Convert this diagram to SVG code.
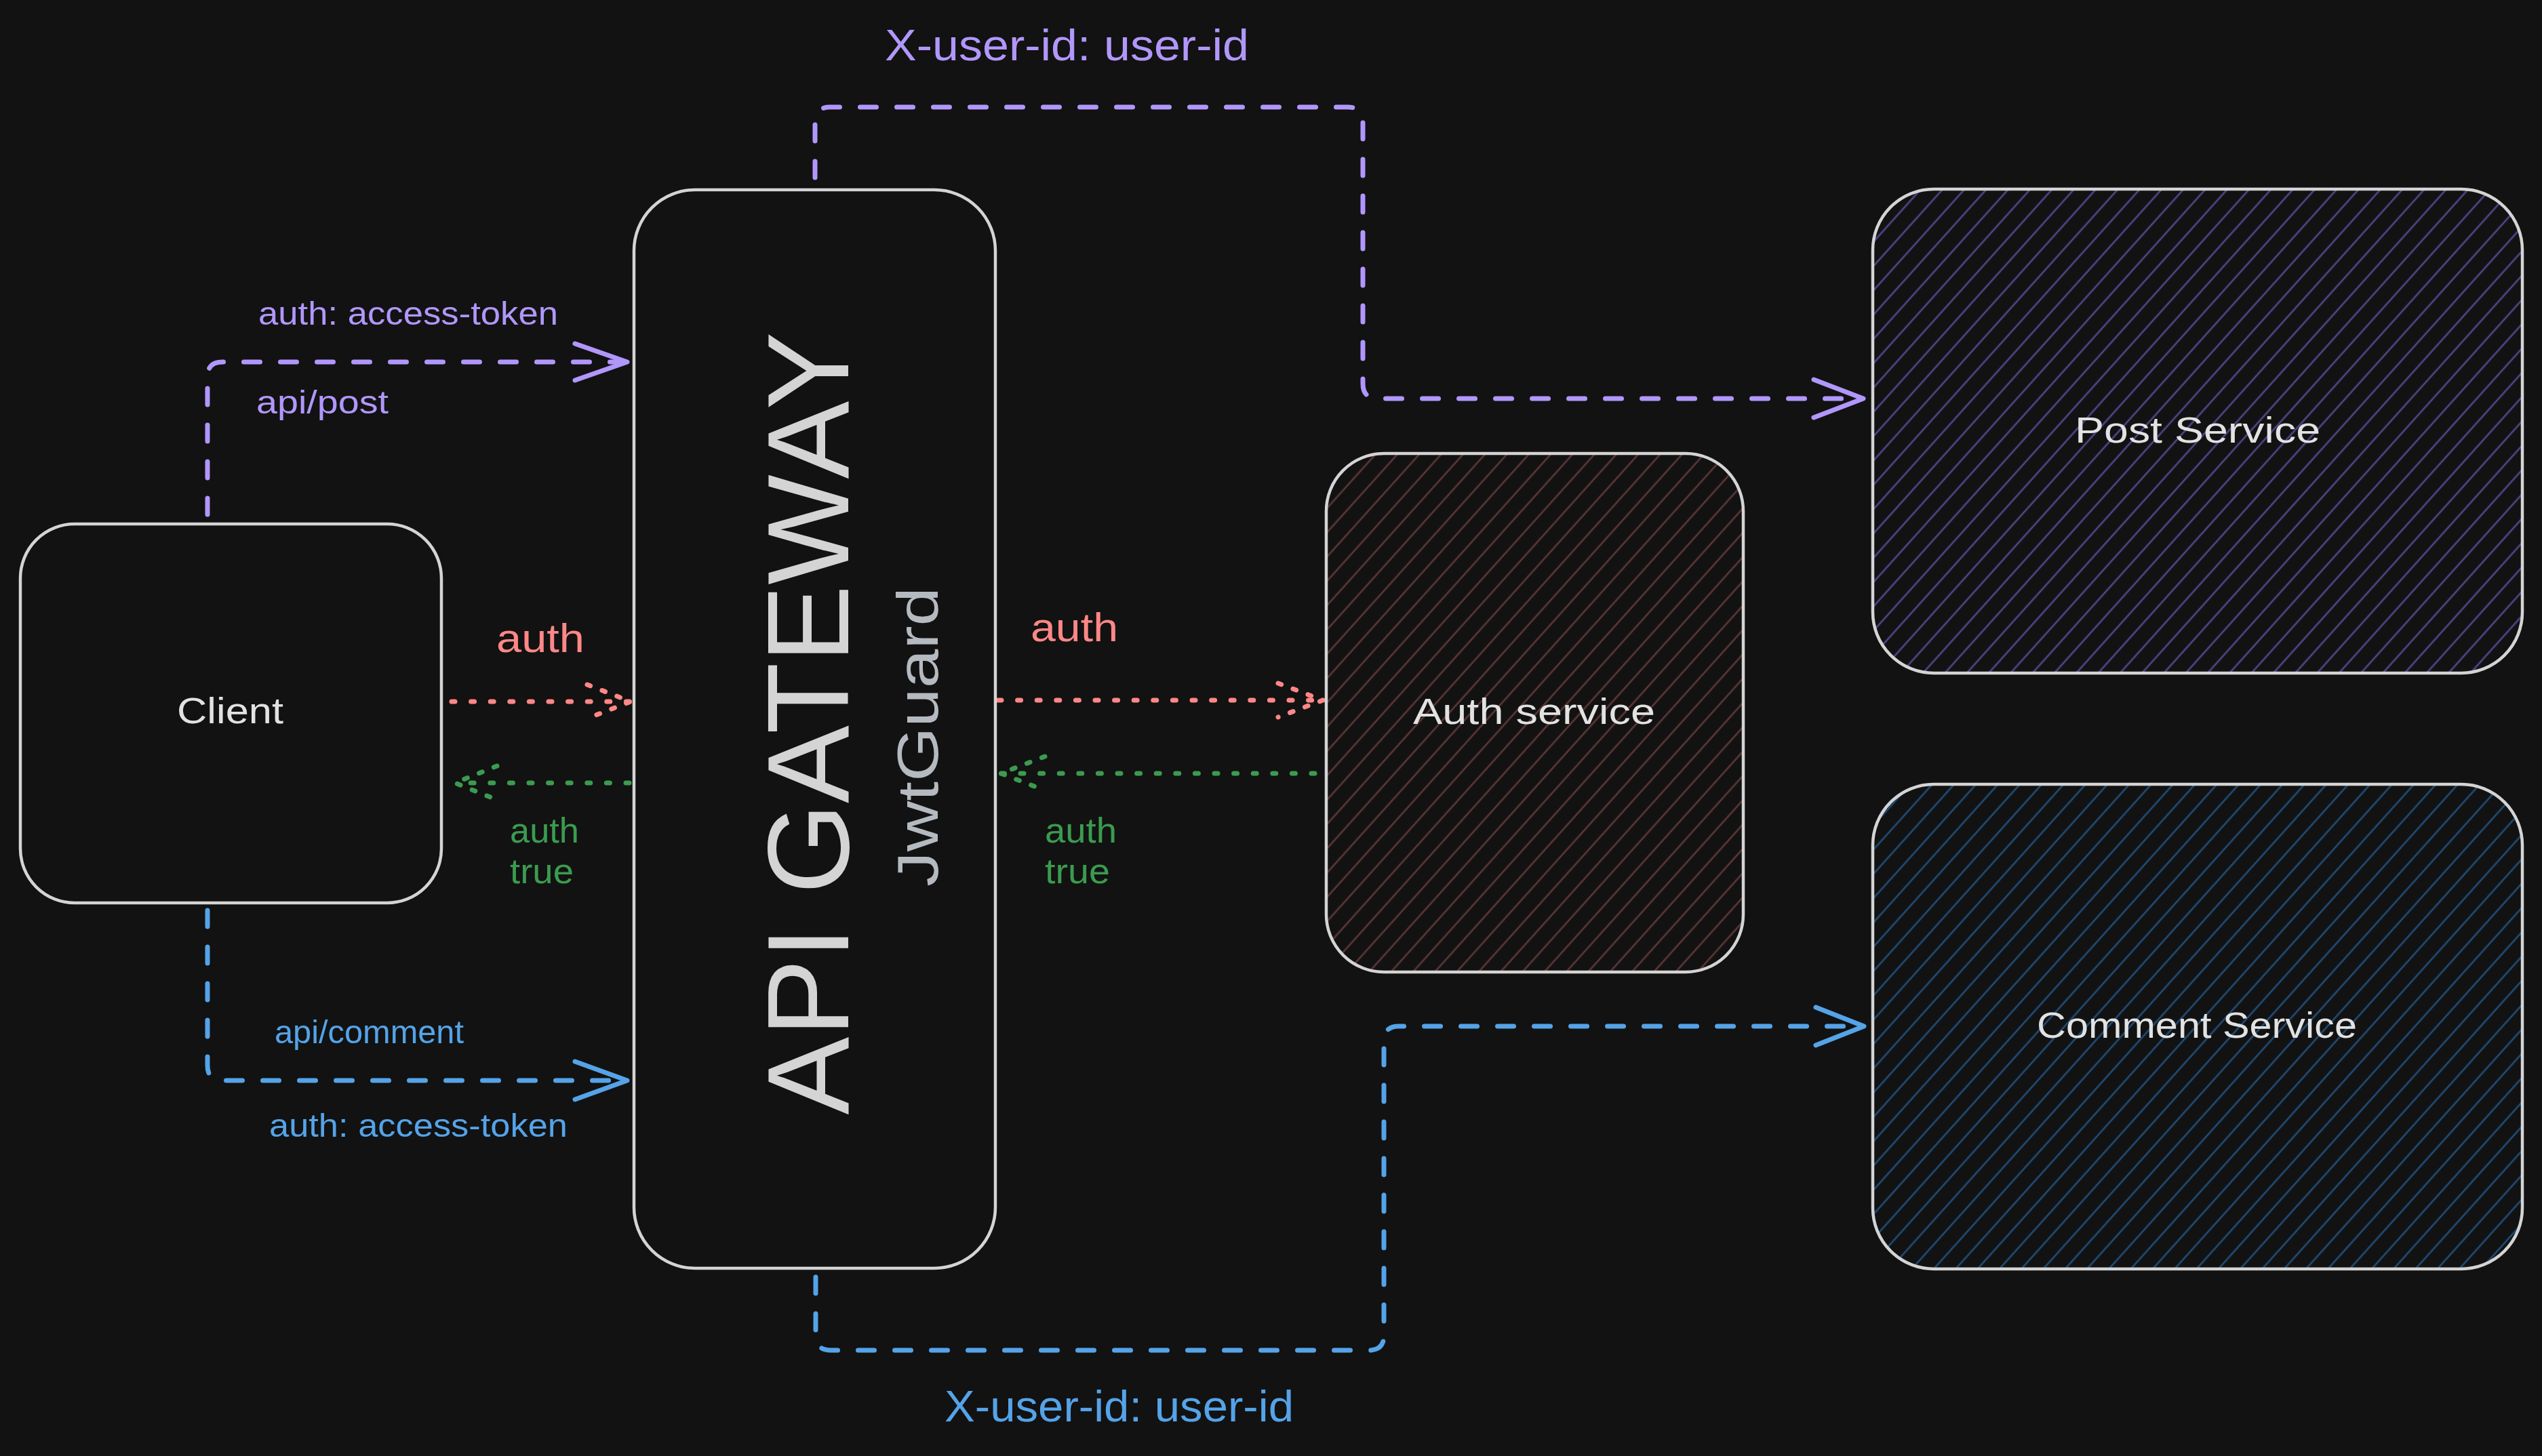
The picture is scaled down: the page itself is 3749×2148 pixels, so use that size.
<svg xmlns="http://www.w3.org/2000/svg" width="3749" height="2148" viewBox="0 0 3749 2148">
  <style>
    .node { fill: #121212; stroke: #d4d4d4; stroke-width: 4.5; }
    .hatch-edge { fill: none; stroke: #d4d4d4; stroke-width: 4.5; }
    .t { font-family: "Liberation Sans", Arial, sans-serif; }
    .ntext { fill: #e2e2e2; font-size: 54px; }
    .dash { fill: none; stroke-width: 7; stroke-dasharray: 24 30; stroke-linecap: round; stroke-linejoin: round; }
    .head { fill: none; stroke-width: 7; stroke-linecap: round; stroke-linejoin: round; }
    .dot { fill: none; stroke-width: 7; stroke-dasharray: 5 23.6; stroke-linecap: round; }
    .dothead { fill: none; stroke-width: 7; stroke-dasharray: 5 18.5; stroke-linecap: round; }
    .purple { stroke: #b197fc; }
    .blue { stroke: #55a3e8; }
    .red { stroke: #ff8787; }
    .green { stroke: #3b9b4f; }
    .ftp { fill: #b197fc; }
    .ftb { fill: #55a3e8; }
    .ftr { fill: #ff8787; }
    .ftg { fill: #3b9b4f; }
  </style>
  <defs>
    <pattern id="hatchPurple" patternUnits="userSpaceOnUse" width="24" height="24" patternTransform="rotate(-48)">
      <line x1="-2" y1="12" x2="26" y2="12" stroke="#4f468c" stroke-width="2.6"/>
    </pattern>
    <pattern id="hatchRed" patternUnits="userSpaceOnUse" width="24" height="24" patternTransform="rotate(-48)">
      <line x1="-2" y1="12" x2="26" y2="12" stroke="#5e3636" stroke-width="2.6"/>
    </pattern>
    <pattern id="hatchBlue" patternUnits="userSpaceOnUse" width="24" height="24" patternTransform="rotate(-48)">
      <line x1="-2" y1="12" x2="26" y2="12" stroke="#1f4d78" stroke-width="2.6"/>
    </pattern>
  </defs>

  <rect x="0" y="0" width="3749" height="2148" fill="#121212"/>

  <g id="connectors">
    <!-- Client -> Gateway (api/post) -->
    <path class="dash purple" d="M306,759 L306,556 Q306,534 328,534 L922,534"/>
    <path class="head purple" d="M848,507 L925,534 L848,561"/>
    <!-- Gateway -> Post Service -->
    <path class="dash purple" d="M1202,262 L1202,180 Q1202,158 1224,158 L1988,158 Q2010,158 2010,180 L2010,566 Q2010,588 2032,588 L2745,588"/>
    <path class="head purple" d="M2675,560 L2748,588 L2675,616"/>
    <!-- Client -> Gateway (api/comment) -->
    <path class="dash blue" d="M306,1343 L306,1572 Q306,1594 328,1594 L922,1594"/>
    <path class="head blue" d="M848,1566 L925,1594 L848,1622"/>
    <!-- Gateway -> Comment Service -->
    <path class="dash blue" d="M1203,1884 L1203,1970 Q1203,1992 1225,1992 L2019,1992 Q2041,1992 2041,1970 L2041,1536 Q2041,1514 2063,1514 L2746,1514"/>
    <path class="head blue" d="M2678,1486 L2749,1514 L2678,1542"/>
    <!-- Client -> Gateway auth (red dotted) -->
    <path class="dot red" d="M666,1035 L930,1035"/>
    <path class="dothead red" d="M866,1010 L930,1035 L866,1060"/>
    <!-- Gateway -> Client auth true (green dotted) -->
    <path class="dot green" d="M928,1155 L671,1155"/>
    <path class="dothead green" d="M733,1130 L671,1155 L733,1180"/>
    <!-- Gateway -> Auth service (red dotted) -->
    <path class="dot red" d="M1472,1033 L1951,1033"/>
    <path class="dothead red" d="M1885,1008 L1951,1033 L1885,1058"/>
    <!-- Auth service -> Gateway (green dotted) -->
    <path class="dot green" d="M1939,1141 L1476,1141"/>
    <path class="dothead green" d="M1541,1116 L1476,1141 L1541,1166"/>

    <!-- connector labels -->
    <text class="t ftp" x="381" y="479" font-size="48" textLength="442" lengthAdjust="spacingAndGlyphs">auth: access-token</text>
    <text class="t ftp" x="378" y="610" font-size="48" textLength="195" lengthAdjust="spacingAndGlyphs">api/post</text>
    <text class="t ftp" x="1305" y="89" font-size="64" textLength="537" lengthAdjust="spacingAndGlyphs">X-user-id: user-id</text>
    <text class="t ftb" x="405" y="1539" font-size="48" textLength="279" lengthAdjust="spacingAndGlyphs">api/comment</text>
    <text class="t ftb" x="397" y="1677" font-size="48" textLength="440" lengthAdjust="spacingAndGlyphs">auth: access-token</text>
    <text class="t ftb" x="1393" y="2097" font-size="64" textLength="515" lengthAdjust="spacingAndGlyphs">X-user-id: user-id</text>
    <text class="t ftr" x="732" y="962" font-size="60" textLength="130" lengthAdjust="spacingAndGlyphs">auth</text>
    <text class="t ftr" x="1520" y="946" font-size="60" textLength="129" lengthAdjust="spacingAndGlyphs">auth</text>
    <text class="t ftg" x="752" y="1243" font-size="52" textLength="102" lengthAdjust="spacingAndGlyphs">auth</text>
    <text class="t ftg" x="752" y="1303" font-size="52" textLength="94" lengthAdjust="spacingAndGlyphs">true</text>
    <text class="t ftg" x="1541" y="1243" font-size="52" textLength="106" lengthAdjust="spacingAndGlyphs">auth</text>
    <text class="t ftg" x="1541" y="1303" font-size="52" textLength="96" lengthAdjust="spacingAndGlyphs">true</text>
  </g>

  <g id="client">
    <rect class="node" x="30" y="773" width="621" height="559" rx="80"/>
    <text class="t ntext" x="261" y="1067" textLength="157" lengthAdjust="spacingAndGlyphs">Client</text>
  </g>

  <g id="api-gateway">
    <rect class="node" x="935" y="280" width="533" height="1591" rx="90"/>
    <text class="t" transform="translate(1251,1067) rotate(-90)" x="0" y="0" text-anchor="middle" font-size="170" fill="#d4d4d4" textLength="1155" lengthAdjust="spacingAndGlyphs">API GATEWAY</text>
    <text class="t" transform="translate(1383,1087) rotate(-90)" x="0" y="0" text-anchor="middle" font-size="86" fill="#b4bac0" textLength="442" lengthAdjust="spacingAndGlyphs">JwtGuard</text>
  </g>

  <g id="auth-service">
    <rect x="1956" y="669" width="615" height="765" rx="85" fill="#121212"/>
    <rect x="1956" y="669" width="615" height="765" rx="85" fill="url(#hatchRed)"/>
    <rect class="hatch-edge" x="1956" y="669" width="615" height="765" rx="85"/>
    <text class="t ntext" x="2084" y="1068" textLength="357" lengthAdjust="spacingAndGlyphs">Auth service</text>
  </g>

  <g id="post-service">
    <rect x="2762" y="279" width="958" height="714" rx="90" fill="#121212"/>
    <rect x="2762" y="279" width="958" height="714" rx="90" fill="url(#hatchPurple)"/>
    <rect class="hatch-edge" x="2762" y="279" width="958" height="714" rx="90"/>
    <text class="t ntext" x="3060" y="653" textLength="362" lengthAdjust="spacingAndGlyphs">Post Service</text>
  </g>

  <g id="comment-service">
    <rect x="2762" y="1157" width="958" height="715" rx="90" fill="#121212"/>
    <rect x="2762" y="1157" width="958" height="715" rx="90" fill="url(#hatchBlue)"/>
    <rect class="hatch-edge" x="2762" y="1157" width="958" height="715" rx="90"/>
    <text class="t ntext" x="3004" y="1531" textLength="472" lengthAdjust="spacingAndGlyphs">Comment Service</text>
  </g>
</svg>
